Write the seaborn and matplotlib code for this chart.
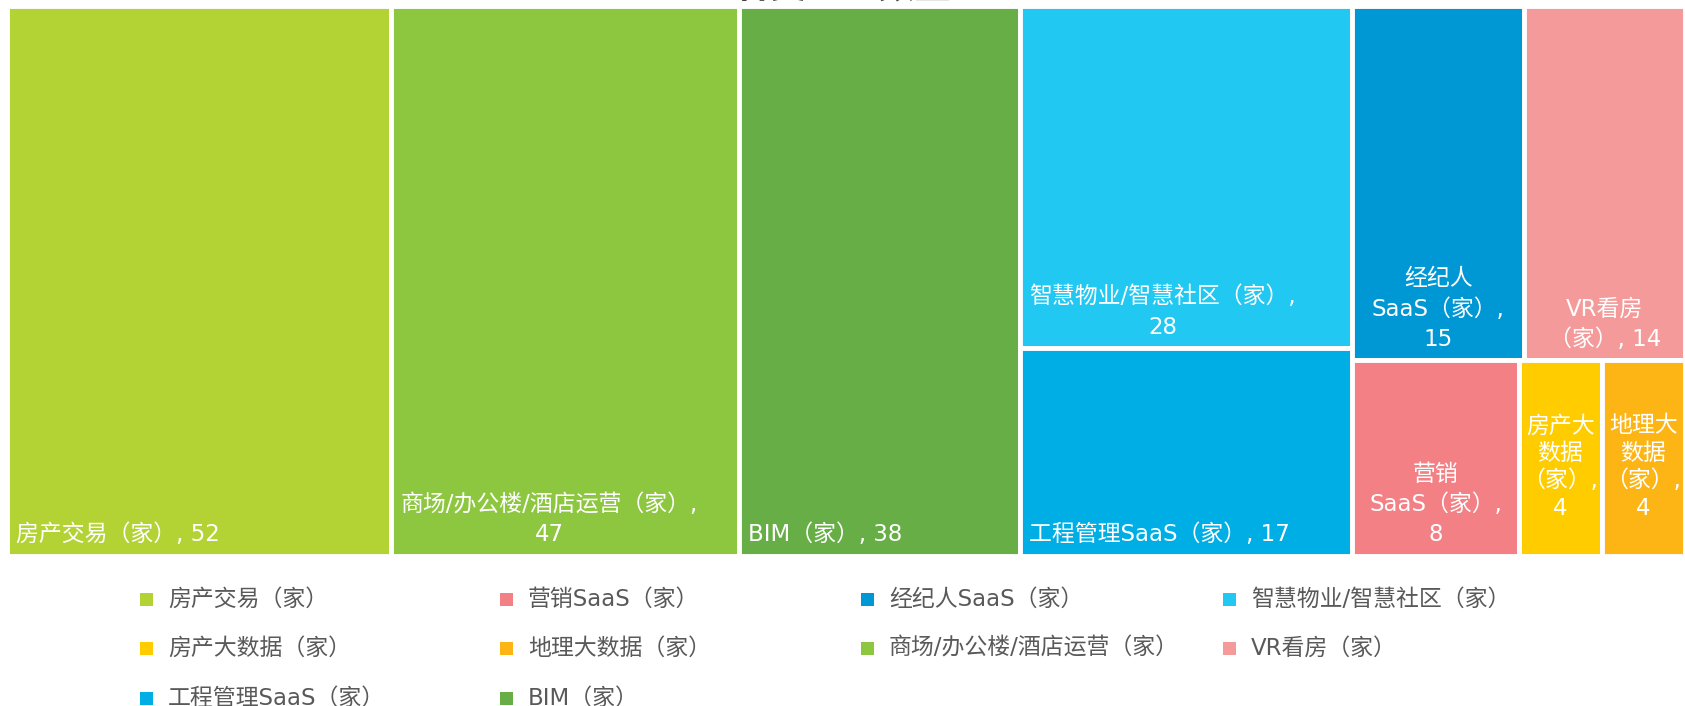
import matplotlib
matplotlib.use("Agg")
import matplotlib.pyplot as plt
from matplotlib.patches import Rectangle
import seaborn as sns

# data (legend order)
categories = ["房产交易", "营销SaaS", "经纪人SaaS", "智慧物业/智慧社区", "房产大数据",
              "地理大数据", "商场/办公楼/酒店运营", "VR看房", "工程管理SaaS", "BIM"]
counts = [52, 8, 15, 28, 4, 4, 47, 14, 17, 38]
colors = ["#B3D334", "#F28085", "#0098D4", "#20C8F2", "#FFCC00",
          "#FDB515", "#8DC63F", "#F59A9A", "#00AEE6", "#66AE45"]
box_labels = {
    "房产交易": "房产交易（家）, 52",
    "营销SaaS": "营销\nSaaS（家）,\n8",
    "经纪人SaaS": "经纪人\nSaaS（家）,\n15",
    "智慧物业/智慧社区": "智慧物业/智慧社区（家）,\n28",
    "房产大数据": "房产大\n数据\n（家）,\n4",
    "地理大数据": "地理大\n数据\n（家）,\n4",
    "商场/办公楼/酒店运营": "商场/办公楼/酒店运营（家）,\n47",
    "VR看房": "VR看房\n（家）, 14",
    "工程管理SaaS": "工程管理SaaS（家）, 17",
    "BIM": "BIM（家）, 38",
}
left_aligned = {"房产交易", "商场/办公楼/酒店运营", "BIM", "智慧物业/智慧社区", "工程管理SaaS"}
raised = {"房产大数据", "地理大数据"}

# treemap structure: "h" = side by side, "v" = stacked top to bottom
layout = ("h", ["房产交易", "商场/办公楼/酒店运营", "BIM",
                ("v", ["智慧物业/智慧社区", "工程管理SaaS"]),
                ("v", [("h", ["经纪人SaaS", "VR看房"]),
                       ("h", ["营销SaaS", "房产大数据", "地理大数据"])])])

value = dict(zip(categories, counts))
color = dict(zip(categories, colors))


def total(node):
    if isinstance(node, str):
        return value[node]
    return sum(total(c) for c in node[1])


def place(node, x, y, w, h, out):
    if isinstance(node, str):
        out[node] = (x, y, w, h)
        return
    kind, children = node
    s = total(node)
    for c in children:
        frac = total(c) / s
        if kind == "h":
            place(c, x, y, w * frac, h, out)
            x += w * frac
        else:
            place(c, x, y, w, h * frac, out)
            y += h * frac


rects = {}
place(layout, 0, 0, 1, 1, rects)

sns.set_theme(style="white")
plt.rcParams["font.family"] = ["DejaVu Sans", "Noto Sans CJK SC"]

fig = plt.figure(figsize=(16.85, 7.06), dpi=100)
ax = fig.add_axes([6.5 / 1685, 1 - 556 / 706, 1 - 6.5 / 1685, 550 / 706])
ax.set_xlim(0, 1)
ax.set_ylim(1, 0)
ax.axis("off")

for name, (x, y, w, h) in rects.items():
    ax.add_patch(Rectangle((x, y), w, h, facecolor=color[name],
                           edgecolor="white", linewidth=3.5))
    dy = 26 if name in raised else 7
    if name in left_aligned:
        ax.annotate(box_labels[name], xy=(x, y + h), xytext=(7, dy),
                    textcoords="offset points", ha="left", va="bottom",
                    multialignment="center", color="white", fontsize=16.5,
                    linespacing=1.4)
    else:
        ax.annotate(box_labels[name], xy=(x + w / 2, y + h), xytext=(0, dy),
                    textcoords="offset points", ha="center", va="bottom",
                    multialignment="center", color="white", fontsize=16.5,
                    linespacing=1.25 if name in raised else 1.4)

# title, mostly cut off by the top edge as in the source
fig.text(0.5, 1 + 2 / 706, "各类企业数量", ha="center", va="baseline",
         fontsize=26, fontweight="bold", color="#404040")

# legend, 4 per row
col_x = [140, 500, 861, 1223]
row_y = [599, 648, 698]
for i, name in enumerate(categories):
    cx = col_x[i % 4]
    cy = row_y[i // 4]
    fig.add_artist(Rectangle((cx / 1685, 1 - (cy + 6.5) / 706), 13 / 1685, 13 / 706,
                             transform=fig.transFigure, facecolor=color[name],
                             edgecolor="none"))
    fig.text((cx + 28) / 1685, 1 - cy / 706, name + "（家）", ha="left", va="center",
             fontsize=16.5, color="#595959")

fig.savefig("out.png", dpi=100)
